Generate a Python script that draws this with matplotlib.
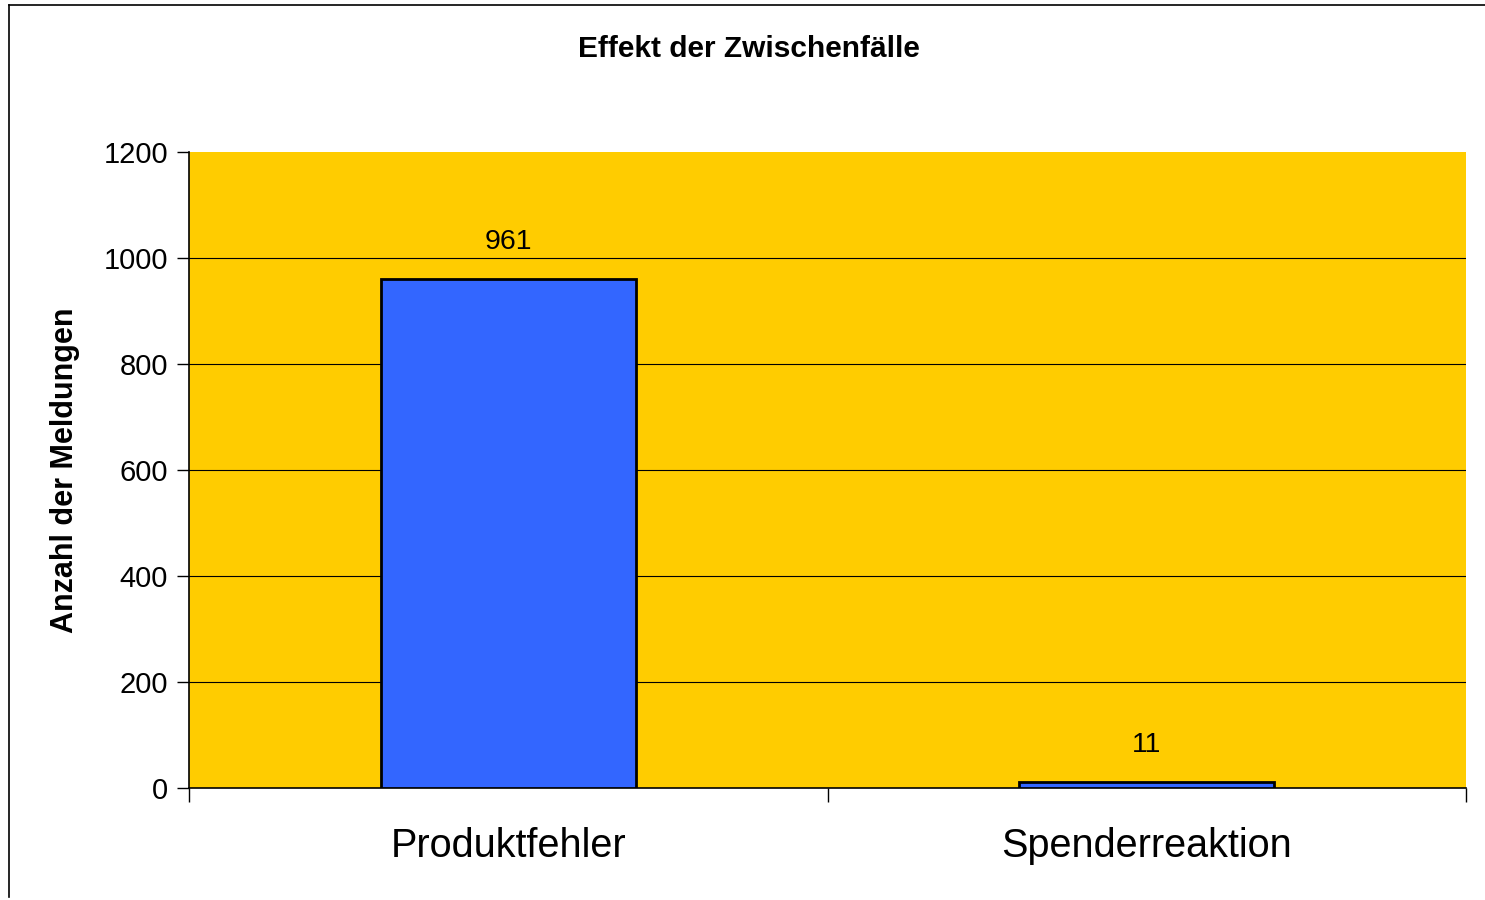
import matplotlib.pyplot as plt
from matplotlib.lines import Line2D

plt.rcParams['font.family'] = ['Liberation Sans', 'DejaVu Sans']

categories = ["Produktfehler", "Spenderreaktion"]
counts = [961, 11]
yticks = [0, 200, 400, 600, 800, 1000, 1200]

fig = plt.figure(figsize=(14.85, 9), dpi=100)
ax = fig.add_axes([189/1485, 112/900, 1277/1485, 636/900])
ax.set_facecolor("#FFCC00")

x = list(range(len(categories)))
ax.bar(x, counts, width=0.4, color="#3366FF", edgecolor="black", linewidth=2, zorder=3)
for xi, v in zip(x, counts):
    ax.text(xi, v + 70, str(v), ha="center", va="center", fontsize=20.5, zorder=4)

ax.set_xlim(-0.5, 1.5)
ax.set_ylim(0, 1200)
ax.set_yticks(yticks)
ax.tick_params(axis="y", labelsize=21, length=9, width=1, direction="out", pad=6)
# gridlines (none on the top edge)
for t in yticks[1:-1]:
    ax.axhline(t, color="black", linewidth=0.8, zorder=1)

# category labels between boundary ticks
ax.set_xticks([-0.5, 0.5, 1.5])
ax.set_xticklabels([])
ax.tick_params(axis="x", length=10, width=1, direction="out")
for xi, c in zip(x, categories):
    ax.text(xi, -0.091, c, transform=ax.get_xaxis_transform(), ha="center", va="center", fontsize=28.5)

for s in ["top", "right"]:
    ax.spines[s].set_visible(False)
ax.spines["left"].set_linewidth(1.2)
ax.spines["bottom"].set_linewidth(1.2)

ax.set_ylabel("Anzahl der Meldungen", fontsize=22, fontweight="bold", labelpad=17)
fig.text(749/1485, 1 - 49/900, "Effekt der Zwischenfälle", ha="center", va="center",
         fontsize=21.5, fontweight="bold")

# outer chart border
fig.add_artist(Line2D([9/1485, 9/1485], [0.003, 1 - 5/900], transform=fig.transFigure, color="black", linewidth=1.2))
fig.add_artist(Line2D([9/1485, 1], [1 - 5/900, 1 - 5/900], transform=fig.transFigure, color="black", linewidth=1.2))

fig.savefig("out.png", dpi=100)
